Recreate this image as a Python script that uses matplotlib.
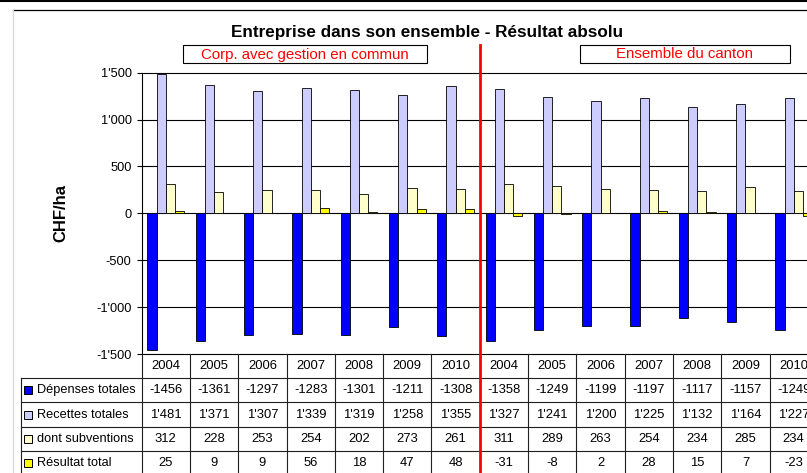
import matplotlib
matplotlib.use("Agg")
import matplotlib.pyplot as plt
import matplotlib.transforms as mtransforms
from matplotlib.lines import Line2D
from matplotlib.patches import Rectangle
import numpy as np

plt.rcParams['font.family'] = ['Liberation Sans', 'DejaVu Sans']

years = ['2004', '2005', '2006', '2007', '2008', '2009', '2010',
         '2004', '2005', '2006', '2007', '2008', '2009', '2010']
depenses = [-1456, -1361, -1297, -1283, -1301, -1211, -1308,
            -1358, -1249, -1199, -1197, -1117, -1157, -1249]
recettes = [1481, 1371, 1307, 1339, 1319, 1258, 1355,
            1327, 1241, 1200, 1225, 1132, 1164, 1227]
subventions = [312, 228, 253, 254, 202, 273, 261,
               311, 289, 263, 254, 234, 285, 234]
resultat = [25, 9, 9, 56, 18, 47, 48,
            -31, -8, 2, 28, 15, 7, -23]

series_names = ['Dépenses totales', 'Recettes totales', 'dont subventions', 'Résultat total']
series_colors = ['#0000ff', '#ccccff', '#ffffcc', '#ffff00']
yticks = [-1500, -1000, -500, 0, 500, 1000, 1500]
yticklabels = ["-1'500", "-1'000", "-500", "0", "500", "1'000", "1'500"]


def fmt_apos(v):
    s = f"{abs(v):,}".replace(",", "'")
    return ("-" if v < 0 else "") + s


W, H = 807, 473


def fx(px):
    return px / W


def fy(py):
    return 1 - py / H


fig = plt.figure(figsize=(W / 100, H / 100), dpi=100)

# main plot area (in pixels of the reference)
left, top, bottom = 141.7, 72.7, 354.0
colw = 48.3
n = len(years)
ax = fig.add_axes([fx(left), fy(bottom), n * colw / W, (bottom - top) / H])

x = np.arange(n)
bw = 0.19
all_series = [depenses, recettes, subventions, resultat]
for i, (vals, col) in enumerate(zip(all_series, series_colors)):
    ax.bar(x + (i - 1.5) * bw, vals, width=bw, color=col,
           edgecolor='black', linewidth=0.6, zorder=3)

ax.set_xlim(-0.5, n - 0.5)
ax.set_ylim(-1500, 1500)
ax.set_yticks(yticks)
ax.set_yticklabels(yticklabels, fontsize=9.2)
ax.tick_params(axis='y', direction='out', length=3.3, width=0.8, pad=4)
ax.set_xticks([])
for y in [-1000, -500, 0, 500, 1000]:
    ax.axhline(y, color='black', linewidth=0.8, zorder=1)
for s in ['left', 'top', 'bottom']:
    ax.spines[s].set_linewidth(0.8)
ax.spines['right'].set_visible(False)

fig.text(fx(61), fy(213), 'CHF/ha', rotation=90, ha='center', va='center',
         fontsize=12, fontweight='bold')

# title and section boxes
fig.text(fx(427), fy(32), 'Entreprise dans son ensemble - Résultat absolu',
         ha='center', va='center', fontsize=12.3, fontweight='bold')
for (x0, x1, label) in [(183.3, 427.3, 'Corp. avec gestion en commun'),
                        (580, 790, 'Ensemble du canton')]:
    fig.add_artist(Rectangle((fx(x0), fy(63)), (x1 - x0) / W, 18 / H,
                             transform=fig.transFigure, facecolor='white',
                             edgecolor='black', linewidth=0.8))
    fig.text(fx((x0 + x1) / 2), fy(54.5), label, color='red',
             ha='center', va='center', fontsize=10.8)

# data table
lab_left = 20.7
L = (left - lab_left) / colw
rowh = 24.2
tab = fig.add_axes([fx(lab_left), fy(bottom + 5 * rowh),
                    (left + n * colw - lab_left) / W, 5 * rowh / H])
tab.set_xlim(-0.5 - L, n - 0.5)
tab.set_ylim(5, 0)
tab.axis('off')
lc = '#202020'
lw = 0.8
for r in range(1, 6):
    tab.plot([-0.5 - L, n - 0.5], [r, r], color=lc, linewidth=lw, clip_on=False)
for k in range(n + 1):
    tab.plot([k - 0.5, k - 0.5], [0, 5], color=lc, linewidth=lw, clip_on=False)
tab.plot([-0.5 - L, -0.5 - L], [1, 5], color=lc, linewidth=lw, clip_on=False)

for j, yr in enumerate(years):
    tab.text(j, 0.5, yr, ha='center', va='center', fontsize=9.4)

row_texts = [
    [str(v) for v in depenses],
    [fmt_apos(v) for v in recettes],
    [str(v) for v in subventions],
    [str(v) for v in resultat],
]
sq_w = 8 / colw
sq_h = 8 / rowh
for r, (name, col, texts) in enumerate(zip(series_names, series_colors, row_texts)):
    yc = r + 1.5
    tab.add_patch(Rectangle((-0.5 - L + 3.3 / colw, yc - sq_h / 2), sq_w, sq_h,
                            facecolor=col, edgecolor='black', linewidth=0.7))
    tab.text(-0.5 - L + 16 / colw, yc, name, ha='left', va='center', fontsize=9.2)
    for j, t in enumerate(texts):
        tab.text(j, yc, t, ha='center', va='center', fontsize=9.4)

# red separator between the two groups
trans = mtransforms.blended_transform_factory(ax.transData, fig.transFigure)
fig.add_artist(Line2D([6.5, 6.5], [fy(45), 0], transform=trans,
                      color='red', linewidth=2.0, zorder=10))

# outer frame
fig.add_artist(Line2D([0, 1], [fy(0.8), fy(0.8)], transform=fig.transFigure,
                      color='black', linewidth=1.5))
fig.add_artist(Line2D([fx(13), 1], [fy(10.5), fy(10.5)], transform=fig.transFigure,
                      color='black', linewidth=0.9))
fig.add_artist(Line2D([fx(13), fx(13)], [fy(10.5), 0], transform=fig.transFigure,
                      color='#d8d8d8', linewidth=0.9))

fig.savefig('out.png', dpi=100)
